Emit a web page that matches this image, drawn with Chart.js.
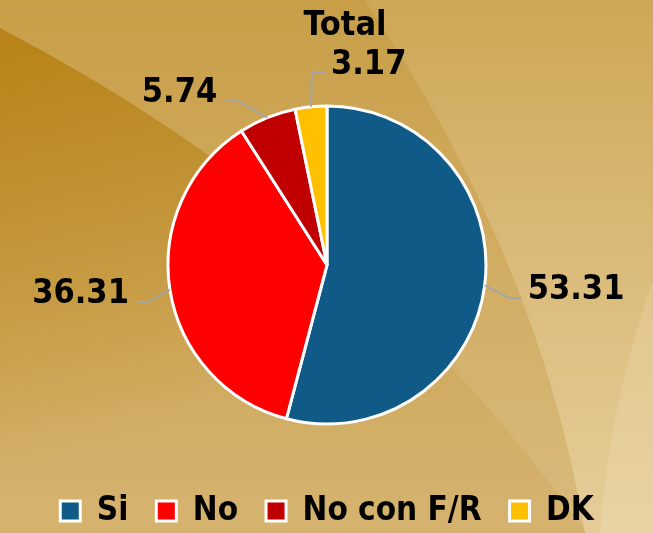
<!DOCTYPE html>
<html>
<head>
<meta charset="utf-8">
<script src="https://cdn.jsdelivr.net/npm/chart.js@4/dist/chart.umd.min.js"></script>
<style>
    html, body { margin: 0; padding: 0; }
    #wrap { width: 653px; height: 533px; position: relative; }
</style>
</head>
<body>
<div id="wrap"><canvas id="myChart"></canvas></div>
<script>
const chartTitle = 'Total';
const categories = ['Si', 'No', 'No con F/R', 'DK'];
const values = [53.31, 36.31, 5.74, 3.17];
const sliceColors = ['#0F5A87', '#FF0000', '#C00000', '#FFC000'];

const fontFamily = "'DejaVu Sans Condensed', 'DejaVu Sans', sans-serif";

// where each leader line bends and ends, relative to the slice edge point
const leaders = [
    { elbow: [25, 12.5], end: [37, 12.5], align: 'left' },
    { elbow: [-22, 12.5], end: [-33, 12.5], align: 'right' },
    { elbow: [-30, -17], end: [-42, -17], align: 'right' },
    { elbow: [1, -34], end: [14, -34], align: 'left' }
];

const background = {
    id: 'background',
    beforeDraw(chart) {
        const { ctx, width, height } = chart;
        ctx.save();

        let g = ctx.createLinearGradient(0, 0, 0, height);
        g.addColorStop(0, '#C89E47');
        g.addColorStop(1, '#DABB7E');
        ctx.fillStyle = g;
        ctx.fillRect(0, 0, width, height);

        // darker sweep on the left
        g = ctx.createLinearGradient(0, 60, 120, 440);
        g.addColorStop(0, 'rgba(178, 122, 8, 0.72)');
        g.addColorStop(1, 'rgba(178, 122, 8, 0.12)');
        ctx.fillStyle = g;
        ctx.beginPath();
        ctx.moveTo(0, 28);
        ctx.quadraticCurveTo(360, 215, 587, height);
        ctx.lineTo(0, height);
        ctx.closePath();
        ctx.fill();

        // lighter sweep on the right
        g = ctx.createLinearGradient(0, 0, 0, height);
        g.addColorStop(0, 'rgba(255, 245, 215, 0.1)');
        g.addColorStop(1, 'rgba(255, 245, 215, 0.3)');
        ctx.fillStyle = g;
        ctx.beginPath();
        ctx.moveTo(365, 0);
        ctx.quadraticCurveTo(540, 260, 585, height);
        ctx.lineTo(width, height);
        ctx.lineTo(width, 0);
        ctx.closePath();
        ctx.fill();

        ctx.fillStyle = 'rgba(255, 248, 225, 0.15)';
        ctx.beginPath();
        ctx.moveTo(width, 280);
        ctx.quadraticCurveTo(610, 400, 600, height);
        ctx.lineTo(width, height);
        ctx.closePath();
        ctx.fill();

        ctx.restore();
    }
};

const sliceLabels = {
    id: 'sliceLabels',
    afterDatasetsDraw(chart) {
        const ctx = chart.ctx;
        const meta = chart.getDatasetMeta(0);
        ctx.save();
        ctx.font = 'bold 34px ' + fontFamily;
        ctx.fillStyle = '#000';
        ctx.strokeStyle = '#A6A6A6';
        ctx.lineWidth = 2;
        ctx.textBaseline = 'alphabetic';

        meta.data.forEach((arc, i) => {
            const p = arc.getProps(['x', 'y', 'startAngle', 'endAngle', 'outerRadius'], true);
            const mid = (p.startAngle + p.endAngle) / 2;
            const ax = p.x + Math.cos(mid) * p.outerRadius;
            const ay = p.y + Math.sin(mid) * p.outerRadius;
            const l = leaders[i];
            const ex = ax + l.end[0], ey = ay + l.end[1];

            ctx.beginPath();
            ctx.moveTo(ax, ay);
            ctx.lineTo(ax + l.elbow[0], ay + l.elbow[1]);
            ctx.lineTo(ex, ey);
            ctx.stroke();

            ctx.textAlign = l.align;
            const tx = l.align === 'left' ? ex + 6 : ex - 8;
            ctx.fillText(values[i].toFixed(2), tx, ey + 1);
        });

        ctx.textAlign = 'center';
        ctx.fillText(chartTitle, 345, 35);
        ctx.restore();
    }
};

const ctx = document.getElementById('myChart').getContext('2d');

const myChart = new Chart(ctx, {
    type: 'pie',
    data: {
        labels: categories,
        datasets: [{
            data: values,
            backgroundColor: sliceColors,
            borderColor: '#FFFFFF',
            borderWidth: 3,
            radius: 159
        }]
    },
    options: {
        responsive: true,
        maintainAspectRatio: false,
        animation: false,
        events: [],
        layout: {
            padding: { top: 63.5, bottom: -4.5, left: 1, right: 0 }
        },
        plugins: {
            tooltip: { enabled: false },
            title: { display: false },
            legend: {
                position: 'bottom',
                labels: {
                    color: '#000',
                    boxWidth: 20,
                    boxHeight: 20,
                    padding: 28,
                    font: { size: 33, weight: 'bold', family: fontFamily }
                }
            }
        }
    },
    plugins: [background, sliceLabels]
});
</script>
</body>
</html>
